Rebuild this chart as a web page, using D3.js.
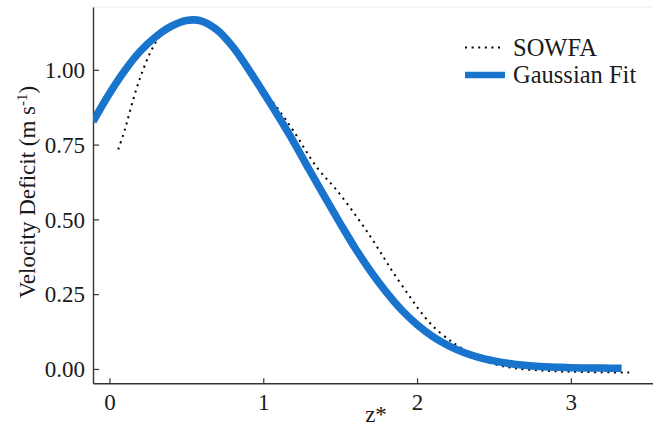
<!DOCTYPE html>
<html>
<head>
<meta charset="utf-8">
<script src="https://cdn.jsdelivr.net/npm/d3@7"></script>
<style>
  html, body { margin: 0; padding: 0; background: #fff; }
  svg { display: block; }
  text { font-family: "Liberation Serif", "DejaVu Serif", serif; fill: #1a1a1a; }
</style>
</head>
<body>
<div id="chart"></div>
<script>
// ---- data ----
const sowfaX = [0.057, 0.10, 0.144, 0.198, 0.263, 0.328, 0.40, 0.50, 0.60, 0.70, 0.80, 0.90, 1.00, 1.098, 1.195, 1.347, 1.477, 1.607, 1.70, 1.78, 1.845, 1.943, 2.019, 2.105, 2.203, 2.246, 2.35, 2.474, 2.626, 2.843, 3.06, 3.384];
const sowfaY = [0.734, 0.80, 0.882, 0.971, 1.055, 1.112, 1.145, 1.165, 1.163, 1.133, 1.078, 1.005, 0.935, 0.868, 0.797, 0.675, 0.598, 0.509, 0.44, 0.375, 0.322, 0.249, 0.194, 0.142, 0.099, 0.084, 0.050, 0.020, 0.003, -0.006, -0.010, -0.012];

const fitX = [-0.107, 0.0, 0.1, 0.2, 0.3, 0.4, 0.5, 0.6, 0.7, 0.8, 0.9, 1.0, 1.1, 1.2, 1.3, 1.4, 1.5, 1.6, 1.7, 1.8, 1.9, 2.0, 2.1, 2.2, 2.3, 2.4, 2.5, 2.6, 2.7, 2.8, 2.9, 3.0, 3.2, 3.33];
const fitY = [0.827, 0.921, 0.998, 1.062, 1.110, 1.145, 1.165, 1.163, 1.133, 1.078, 1.005, 0.925, 0.843, 0.757, 0.665, 0.575, 0.487, 0.402, 0.325, 0.257, 0.197, 0.148, 0.109, 0.079, 0.056, 0.039, 0.027, 0.018, 0.012, 0.008, 0.006, 0.004, 0.003, 0.002];

const xTicks = [0, 1, 2, 3];
const yTicks = [0, 0.25, 0.5, 0.75, 1.0];
const seriesNames = ["SOWFA", "Gaussian Fit"];

// ---- layout ----
const W = 653, H = 428;
const mLeft = 93, mRight = 653, mTop = 7, mBottom = 383.3;

const svg = d3.select("#chart").append("svg").attr("width", W).attr("height", H);

const x = d3.scaleLinear().domain([-0.107, 3.534]).range([mLeft, mRight]);
const y = d3.scaleLinear().domain([-0.048, 1.21]).range([mBottom, mTop]);

// top faint border
svg.append("line").attr("x1", mLeft).attr("x2", mRight).attr("y1", mTop).attr("y2", mTop)
  .attr("stroke", "#ececec").attr("stroke-width", 1);

// axes
const xAxis = d3.axisBottom(x).tickValues(xTicks).tickFormat(d3.format("d")).tickSizeInner(-5).tickSizeOuter(0).tickPadding(10);
const yAxis = d3.axisLeft(y).tickValues(yTicks).tickFormat(d3.format(".2f")).tickSizeInner(-6).tickSizeOuter(0).tickPadding(8);

const gx = svg.append("g").attr("transform", `translate(0,${mBottom})`).call(xAxis);
const gy = svg.append("g").attr("transform", `translate(${mLeft},0)`).call(yAxis);
[gx, gy].forEach(g => {
  g.select(".domain").attr("stroke", "#333").attr("stroke-width", 1.4);
  g.selectAll(".tick line").attr("stroke", "#333").attr("stroke-width", 1.2);
  g.selectAll(".tick text").attr("font-family", "Liberation Serif, serif").attr("font-size", 23).attr("fill", "#1a1a1a");
});
gx.selectAll(".tick text").attr("dy", "0.71em");
gy.selectAll(".tick text").attr("dy", "0.34em");

// clip
svg.append("clipPath").attr("id", "clip").append("rect")
  .attr("x", mLeft).attr("y", mTop).attr("width", mRight - mLeft).attr("height", mBottom - mTop);

const sowfa = sowfaX.map((v, i) => [v, sowfaY[i]]);
const fit = fitX.map((v, i) => [v, fitY[i]]);

const line = d3.line().x(d => x(d[0])).y(d => y(d[1])).curve(d3.curveCatmullRom.alpha(0.5));

const plot = svg.append("g").attr("clip-path", "url(#clip)");

plot.append("path").datum(sowfa).attr("d", line)
  .attr("fill", "none").attr("stroke", "#000").attr("stroke-width", 2)
  .attr("stroke-dasharray", "2,4.6");

plot.append("path").datum(fit).attr("d", line)
  .attr("fill", "none").attr("stroke", "#1874CD").attr("stroke-width", 7.5)
  .attr("stroke-linecap", "butt");

// axis titles
svg.append("text").attr("x", 376).attr("y", 422).attr("text-anchor", "middle")
  .attr("font-size", 23).text("z*");

const yt = svg.append("text").attr("transform", `translate(35,192) rotate(-90)`)
  .attr("text-anchor", "middle").attr("font-size", 23);
yt.append("tspan").text("Velocity Deficit (m s");
yt.append("tspan").attr("dy", -8).attr("font-size", 15).text("-1");
yt.append("tspan").attr("dy", 8).text(")");

// legend
const leg = svg.append("g");
leg.append("line").attr("x1", 465).attr("x2", 502).attr("y1", 47.5).attr("y2", 47.5)
  .attr("stroke", "#000").attr("stroke-width", 2).attr("stroke-dasharray", "2,4.6");
leg.append("line").attr("x1", 465).attr("x2", 505).attr("y1", 75).attr("y2", 75)
  .attr("stroke", "#1874CD").attr("stroke-width", 6.5);
leg.append("text").attr("x", 513).attr("y", 56).attr("font-size", 24.5).text(seriesNames[0]);
leg.append("text").attr("x", 513).attr("y", 83).attr("font-size", 24.5).text(seriesNames[1]);
</script>
</body>
</html>
